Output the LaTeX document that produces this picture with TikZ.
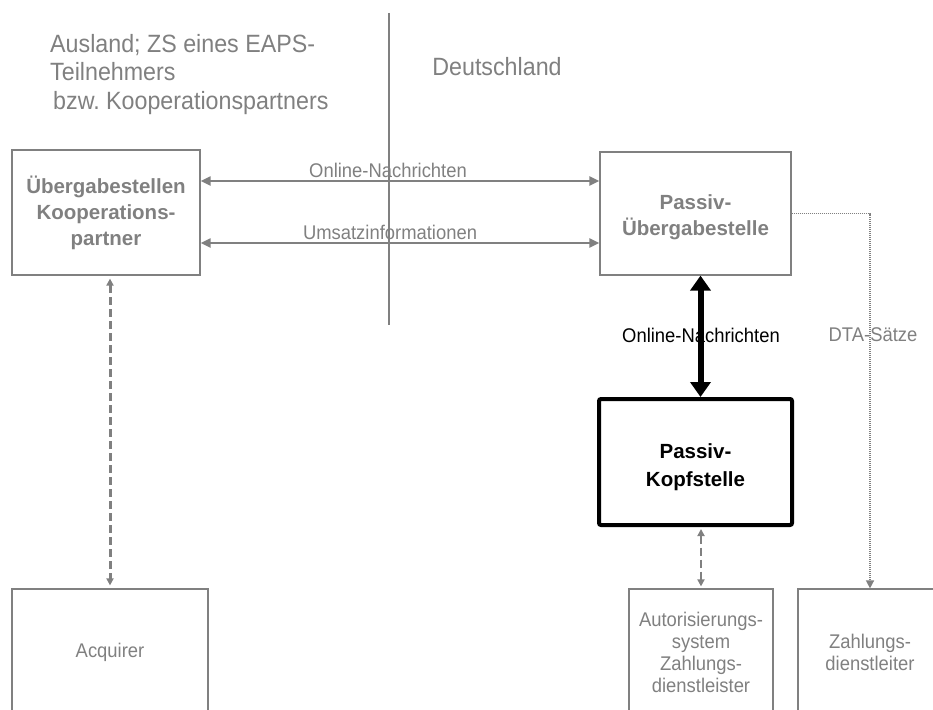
\documentclass[tikz,border=0pt]{standalone}
\usepackage{fontspec}
\setmainfont{Liberation Sans}[FakeStretch=0.93]
\newfontfamily\boxfont{Liberation Sans}
\usetikzlibrary{arrows.meta}
\definecolor{grau}{RGB}{128,128,128}

\tikzset{
  gbox/.style={draw=grau, line width=1.2pt, inner sep=0pt, align=center, text=grau,
    font=\fontsize{19.8}{22}\selectfont},
  titel/.style={font=\boxfont\bfseries\fontsize{20.5}{26}\selectfont},
  glabel/.style={text=grau, inner sep=2pt, font=\fontsize{19.8}{22}\selectfont},
  garrow/.style={draw=grau, line width=2pt,
    {Triangle[length=10pt,width=9pt]}-{Triangle[length=10pt,width=9pt]}},
  gdash/.style={draw=grau, line width=2.5pt, dash pattern=on 8pt off 4pt,
    {Triangle[length=7pt,width=7pt]}-{Triangle[length=7pt,width=7pt]}},
  dtaline/.style={draw=grau, line width=1.4pt, dash pattern=on 1pt off 1pt,
    -{Triangle[length=8pt,width=8pt]}},
  kopfarrow/.style={draw=black, line width=6pt,
    {Triangle[length=15pt,width=20pt]}-{Triangle[length=15pt,width=20pt]}}
}

\begin{document}
\frenchspacing
\begin{tikzpicture}[x=1pt,y=-1pt]
\useasboundingbox (0,0) rectangle (933,709);

% Kopfzeile
\node[anchor=north west, inner sep=0pt, align=left, text=grau,
  font=\fontsize{25}{28.5}\selectfont] (ausland) at (50,34)
  {Ausland; ZS eines EAPS-\\Teilnehmers\\\hspace*{3pt}bzw. Kooperationspartners};
\node[text=grau, font=\fontsize{25}{28.5}\selectfont] (deutschland) at (497,67) {Deutschland};
\draw[grau, line width=1.5pt] (389,13) -- (389,325);

% Kaesten
\node[gbox, titel, minimum width=188pt, minimum height=125pt] (ukp) at (106,212.5)
  {\rule{0pt}{18pt}Übergabestellen\\Kooperations-\\partner};
\node[gbox, titel, minimum width=191pt, minimum height=123pt] (pue) at (695.5,213.5)
  {\rule{0pt}{23pt}Passiv-\\Übergabestelle};
\node[gbox, titel, draw=black, text=black, line width=4pt, rounded corners=2pt,
  font=\boxfont\bfseries\fontsize{20.5}{28}\selectfont,
  minimum width=193pt, minimum height=126pt] (pk) at (695.5,462)
  {\rule{0pt}{25pt}Passiv-\\Kopfstelle};
\node[gbox, minimum width=196pt, minimum height=126pt] (acq) at (110,652) {Acquirer};
\node[gbox, minimum width=144pt, minimum height=126pt] (aut) at (701,652)
  {Autorisierungs-\\system\\Zahlungs-\\dienstleister};
\node[gbox, minimum width=144pt, minimum height=126pt] (zdl) at (870,652)
  {Zahlungs-\\dienstleiter};

% Verbindungen
\coordinate (on) at ([yshift=31.5pt]ukp.east);
\coordinate (um) at ([yshift=-30.5pt]ukp.east);
\draw[garrow] (on) -- (on -| pue.west) node[glabel, pos=0.47, above] {Online-Nachrichten};
\draw[garrow] (um) -- (um -| pue.west) node[glabel, pos=0.475, above] {Umsatzinformationen};

\node[font=\fontsize{19.8}{22}\selectfont, inner sep=0pt] (onk) at (701,335) {Online-Nachrichten};
\draw[kopfarrow] ([xshift=5pt]pue.south) -- ([xshift=5pt]pk.north);

\node[glabel] (dta) at (873,335) {DTA-Sätze};
\draw[dtaline] (pue.east) -| (zdl.north);

\draw[gdash, shorten <=2pt, shorten >=2pt] (pk.south -| aut.north) -- (aut.north);
\draw[gdash, line width=3pt, shorten <=3pt, shorten >=3pt] (acq.north |- ukp.south) -- (acq.north);
\end{tikzpicture}
\end{document}
